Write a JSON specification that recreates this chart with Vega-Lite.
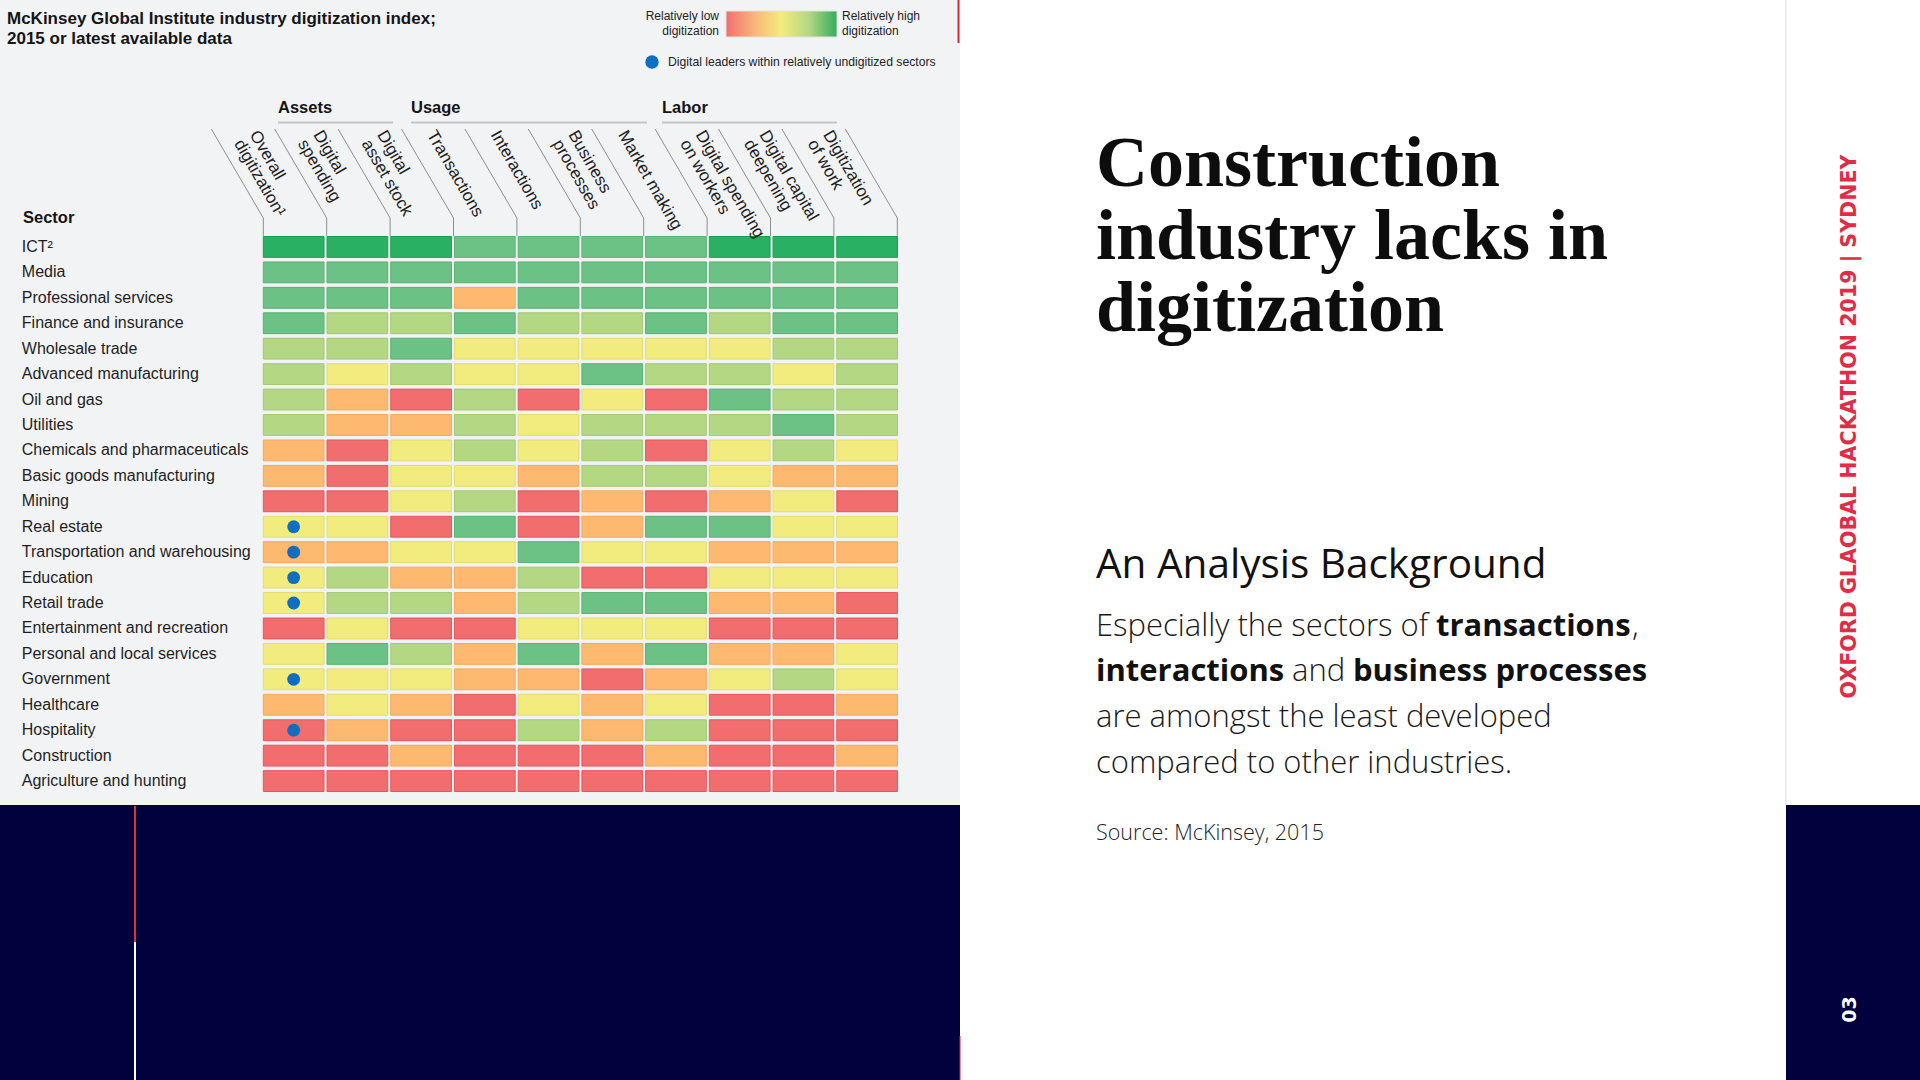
{
  "$schema": "https://vega.github.io/schema/vega-lite/v6.json",
  "width": 1920,
  "height": 1080,
  "autosize": {"type": "fit", "contains": "padding"},
  "padding": 0,
  "background": "#ffffff",
  "config": {"view": {"stroke": null}, "font": "Liberation Sans"},
  "datasets": {
    "cells": [
      {"sector":"ICT²","metric":"Overall digitization","level":6},{"sector":"ICT²","metric":"Digital spending","level":6},{"sector":"ICT²","metric":"Digital asset stock","level":6},{"sector":"ICT²","metric":"Transactions","level":5},{"sector":"ICT²","metric":"Interactions","level":5},{"sector":"ICT²","metric":"Business processes","level":5},{"sector":"ICT²","metric":"Market making","level":5},{"sector":"ICT²","metric":"Digital spending on workers","level":6},{"sector":"ICT²","metric":"Digital capital deepening","level":6},{"sector":"ICT²","metric":"Digitization of work","level":6},
      {"sector":"Media","metric":"Overall digitization","level":5},{"sector":"Media","metric":"Digital spending","level":5},{"sector":"Media","metric":"Digital asset stock","level":5},{"sector":"Media","metric":"Transactions","level":5},{"sector":"Media","metric":"Interactions","level":5},{"sector":"Media","metric":"Business processes","level":5},{"sector":"Media","metric":"Market making","level":5},{"sector":"Media","metric":"Digital spending on workers","level":5},{"sector":"Media","metric":"Digital capital deepening","level":5},{"sector":"Media","metric":"Digitization of work","level":5},
      {"sector":"Professional services","metric":"Overall digitization","level":5},{"sector":"Professional services","metric":"Digital spending","level":5},{"sector":"Professional services","metric":"Digital asset stock","level":5},{"sector":"Professional services","metric":"Transactions","level":2},{"sector":"Professional services","metric":"Interactions","level":5},{"sector":"Professional services","metric":"Business processes","level":5},{"sector":"Professional services","metric":"Market making","level":5},{"sector":"Professional services","metric":"Digital spending on workers","level":5},{"sector":"Professional services","metric":"Digital capital deepening","level":5},{"sector":"Professional services","metric":"Digitization of work","level":5},
      {"sector":"Finance and insurance","metric":"Overall digitization","level":5},{"sector":"Finance and insurance","metric":"Digital spending","level":4},{"sector":"Finance and insurance","metric":"Digital asset stock","level":4},{"sector":"Finance and insurance","metric":"Transactions","level":5},{"sector":"Finance and insurance","metric":"Interactions","level":4},{"sector":"Finance and insurance","metric":"Business processes","level":4},{"sector":"Finance and insurance","metric":"Market making","level":5},{"sector":"Finance and insurance","metric":"Digital spending on workers","level":4},{"sector":"Finance and insurance","metric":"Digital capital deepening","level":5},{"sector":"Finance and insurance","metric":"Digitization of work","level":5},
      {"sector":"Wholesale trade","metric":"Overall digitization","level":4},{"sector":"Wholesale trade","metric":"Digital spending","level":4},{"sector":"Wholesale trade","metric":"Digital asset stock","level":5},{"sector":"Wholesale trade","metric":"Transactions","level":3},{"sector":"Wholesale trade","metric":"Interactions","level":3},{"sector":"Wholesale trade","metric":"Business processes","level":3},{"sector":"Wholesale trade","metric":"Market making","level":3},{"sector":"Wholesale trade","metric":"Digital spending on workers","level":3},{"sector":"Wholesale trade","metric":"Digital capital deepening","level":4},{"sector":"Wholesale trade","metric":"Digitization of work","level":4},
      {"sector":"Advanced manufacturing","metric":"Overall digitization","level":4},{"sector":"Advanced manufacturing","metric":"Digital spending","level":3},{"sector":"Advanced manufacturing","metric":"Digital asset stock","level":4},{"sector":"Advanced manufacturing","metric":"Transactions","level":3},{"sector":"Advanced manufacturing","metric":"Interactions","level":3},{"sector":"Advanced manufacturing","metric":"Business processes","level":5},{"sector":"Advanced manufacturing","metric":"Market making","level":4},{"sector":"Advanced manufacturing","metric":"Digital spending on workers","level":4},{"sector":"Advanced manufacturing","metric":"Digital capital deepening","level":3},{"sector":"Advanced manufacturing","metric":"Digitization of work","level":4},
      {"sector":"Oil and gas","metric":"Overall digitization","level":4},{"sector":"Oil and gas","metric":"Digital spending","level":2},{"sector":"Oil and gas","metric":"Digital asset stock","level":1},{"sector":"Oil and gas","metric":"Transactions","level":4},{"sector":"Oil and gas","metric":"Interactions","level":1},{"sector":"Oil and gas","metric":"Business processes","level":3},{"sector":"Oil and gas","metric":"Market making","level":1},{"sector":"Oil and gas","metric":"Digital spending on workers","level":5},{"sector":"Oil and gas","metric":"Digital capital deepening","level":4},{"sector":"Oil and gas","metric":"Digitization of work","level":4},
      {"sector":"Utilities","metric":"Overall digitization","level":4},{"sector":"Utilities","metric":"Digital spending","level":2},{"sector":"Utilities","metric":"Digital asset stock","level":2},{"sector":"Utilities","metric":"Transactions","level":4},{"sector":"Utilities","metric":"Interactions","level":3},{"sector":"Utilities","metric":"Business processes","level":4},{"sector":"Utilities","metric":"Market making","level":4},{"sector":"Utilities","metric":"Digital spending on workers","level":4},{"sector":"Utilities","metric":"Digital capital deepening","level":5},{"sector":"Utilities","metric":"Digitization of work","level":4},
      {"sector":"Chemicals and pharmaceuticals","metric":"Overall digitization","level":2},{"sector":"Chemicals and pharmaceuticals","metric":"Digital spending","level":1},{"sector":"Chemicals and pharmaceuticals","metric":"Digital asset stock","level":3},{"sector":"Chemicals and pharmaceuticals","metric":"Transactions","level":4},{"sector":"Chemicals and pharmaceuticals","metric":"Interactions","level":3},{"sector":"Chemicals and pharmaceuticals","metric":"Business processes","level":4},{"sector":"Chemicals and pharmaceuticals","metric":"Market making","level":1},{"sector":"Chemicals and pharmaceuticals","metric":"Digital spending on workers","level":3},{"sector":"Chemicals and pharmaceuticals","metric":"Digital capital deepening","level":4},{"sector":"Chemicals and pharmaceuticals","metric":"Digitization of work","level":3},
      {"sector":"Basic goods manufacturing","metric":"Overall digitization","level":2},{"sector":"Basic goods manufacturing","metric":"Digital spending","level":1},{"sector":"Basic goods manufacturing","metric":"Digital asset stock","level":3},{"sector":"Basic goods manufacturing","metric":"Transactions","level":3},{"sector":"Basic goods manufacturing","metric":"Interactions","level":2},{"sector":"Basic goods manufacturing","metric":"Business processes","level":4},{"sector":"Basic goods manufacturing","metric":"Market making","level":4},{"sector":"Basic goods manufacturing","metric":"Digital spending on workers","level":3},{"sector":"Basic goods manufacturing","metric":"Digital capital deepening","level":2},{"sector":"Basic goods manufacturing","metric":"Digitization of work","level":2},
      {"sector":"Mining","metric":"Overall digitization","level":1},{"sector":"Mining","metric":"Digital spending","level":1},{"sector":"Mining","metric":"Digital asset stock","level":3},{"sector":"Mining","metric":"Transactions","level":4},{"sector":"Mining","metric":"Interactions","level":1},{"sector":"Mining","metric":"Business processes","level":2},{"sector":"Mining","metric":"Market making","level":1},{"sector":"Mining","metric":"Digital spending on workers","level":2},{"sector":"Mining","metric":"Digital capital deepening","level":3},{"sector":"Mining","metric":"Digitization of work","level":1},
      {"sector":"Real estate","metric":"Overall digitization","level":3},{"sector":"Real estate","metric":"Digital spending","level":3},{"sector":"Real estate","metric":"Digital asset stock","level":1},{"sector":"Real estate","metric":"Transactions","level":5},{"sector":"Real estate","metric":"Interactions","level":1},{"sector":"Real estate","metric":"Business processes","level":2},{"sector":"Real estate","metric":"Market making","level":5},{"sector":"Real estate","metric":"Digital spending on workers","level":5},{"sector":"Real estate","metric":"Digital capital deepening","level":3},{"sector":"Real estate","metric":"Digitization of work","level":3},
      {"sector":"Transportation and warehousing","metric":"Overall digitization","level":2},{"sector":"Transportation and warehousing","metric":"Digital spending","level":2},{"sector":"Transportation and warehousing","metric":"Digital asset stock","level":3},{"sector":"Transportation and warehousing","metric":"Transactions","level":3},{"sector":"Transportation and warehousing","metric":"Interactions","level":5},{"sector":"Transportation and warehousing","metric":"Business processes","level":3},{"sector":"Transportation and warehousing","metric":"Market making","level":3},{"sector":"Transportation and warehousing","metric":"Digital spending on workers","level":2},{"sector":"Transportation and warehousing","metric":"Digital capital deepening","level":2},{"sector":"Transportation and warehousing","metric":"Digitization of work","level":2},
      {"sector":"Education","metric":"Overall digitization","level":3},{"sector":"Education","metric":"Digital spending","level":4},{"sector":"Education","metric":"Digital asset stock","level":2},{"sector":"Education","metric":"Transactions","level":2},{"sector":"Education","metric":"Interactions","level":4},{"sector":"Education","metric":"Business processes","level":1},{"sector":"Education","metric":"Market making","level":1},{"sector":"Education","metric":"Digital spending on workers","level":3},{"sector":"Education","metric":"Digital capital deepening","level":3},{"sector":"Education","metric":"Digitization of work","level":3},
      {"sector":"Retail trade","metric":"Overall digitization","level":3},{"sector":"Retail trade","metric":"Digital spending","level":4},{"sector":"Retail trade","metric":"Digital asset stock","level":4},{"sector":"Retail trade","metric":"Transactions","level":2},{"sector":"Retail trade","metric":"Interactions","level":4},{"sector":"Retail trade","metric":"Business processes","level":5},{"sector":"Retail trade","metric":"Market making","level":5},{"sector":"Retail trade","metric":"Digital spending on workers","level":2},{"sector":"Retail trade","metric":"Digital capital deepening","level":2},{"sector":"Retail trade","metric":"Digitization of work","level":1},
      {"sector":"Entertainment and recreation","metric":"Overall digitization","level":1},{"sector":"Entertainment and recreation","metric":"Digital spending","level":3},{"sector":"Entertainment and recreation","metric":"Digital asset stock","level":1},{"sector":"Entertainment and recreation","metric":"Transactions","level":1},{"sector":"Entertainment and recreation","metric":"Interactions","level":3},{"sector":"Entertainment and recreation","metric":"Business processes","level":3},{"sector":"Entertainment and recreation","metric":"Market making","level":3},{"sector":"Entertainment and recreation","metric":"Digital spending on workers","level":1},{"sector":"Entertainment and recreation","metric":"Digital capital deepening","level":1},{"sector":"Entertainment and recreation","metric":"Digitization of work","level":1},
      {"sector":"Personal and local services","metric":"Overall digitization","level":3},{"sector":"Personal and local services","metric":"Digital spending","level":5},{"sector":"Personal and local services","metric":"Digital asset stock","level":4},{"sector":"Personal and local services","metric":"Transactions","level":2},{"sector":"Personal and local services","metric":"Interactions","level":5},{"sector":"Personal and local services","metric":"Business processes","level":2},{"sector":"Personal and local services","metric":"Market making","level":5},{"sector":"Personal and local services","metric":"Digital spending on workers","level":2},{"sector":"Personal and local services","metric":"Digital capital deepening","level":2},{"sector":"Personal and local services","metric":"Digitization of work","level":3},
      {"sector":"Government","metric":"Overall digitization","level":3},{"sector":"Government","metric":"Digital spending","level":3},{"sector":"Government","metric":"Digital asset stock","level":3},{"sector":"Government","metric":"Transactions","level":2},{"sector":"Government","metric":"Interactions","level":2},{"sector":"Government","metric":"Business processes","level":1},{"sector":"Government","metric":"Market making","level":2},{"sector":"Government","metric":"Digital spending on workers","level":3},{"sector":"Government","metric":"Digital capital deepening","level":4},{"sector":"Government","metric":"Digitization of work","level":3},
      {"sector":"Healthcare","metric":"Overall digitization","level":2},{"sector":"Healthcare","metric":"Digital spending","level":3},{"sector":"Healthcare","metric":"Digital asset stock","level":2},{"sector":"Healthcare","metric":"Transactions","level":1},{"sector":"Healthcare","metric":"Interactions","level":3},{"sector":"Healthcare","metric":"Business processes","level":2},{"sector":"Healthcare","metric":"Market making","level":3},{"sector":"Healthcare","metric":"Digital spending on workers","level":1},{"sector":"Healthcare","metric":"Digital capital deepening","level":1},{"sector":"Healthcare","metric":"Digitization of work","level":2},
      {"sector":"Hospitality","metric":"Overall digitization","level":1},{"sector":"Hospitality","metric":"Digital spending","level":2},{"sector":"Hospitality","metric":"Digital asset stock","level":1},{"sector":"Hospitality","metric":"Transactions","level":1},{"sector":"Hospitality","metric":"Interactions","level":4},{"sector":"Hospitality","metric":"Business processes","level":2},{"sector":"Hospitality","metric":"Market making","level":4},{"sector":"Hospitality","metric":"Digital spending on workers","level":1},{"sector":"Hospitality","metric":"Digital capital deepening","level":1},{"sector":"Hospitality","metric":"Digitization of work","level":1},
      {"sector":"Construction","metric":"Overall digitization","level":1},{"sector":"Construction","metric":"Digital spending","level":1},{"sector":"Construction","metric":"Digital asset stock","level":2},{"sector":"Construction","metric":"Transactions","level":1},{"sector":"Construction","metric":"Interactions","level":1},{"sector":"Construction","metric":"Business processes","level":1},{"sector":"Construction","metric":"Market making","level":2},{"sector":"Construction","metric":"Digital spending on workers","level":1},{"sector":"Construction","metric":"Digital capital deepening","level":1},{"sector":"Construction","metric":"Digitization of work","level":2},
      {"sector":"Agriculture and hunting","metric":"Overall digitization","level":1},{"sector":"Agriculture and hunting","metric":"Digital spending","level":1},{"sector":"Agriculture and hunting","metric":"Digital asset stock","level":1},{"sector":"Agriculture and hunting","metric":"Transactions","level":1},{"sector":"Agriculture and hunting","metric":"Interactions","level":1},{"sector":"Agriculture and hunting","metric":"Business processes","level":1},{"sector":"Agriculture and hunting","metric":"Market making","level":1},{"sector":"Agriculture and hunting","metric":"Digital spending on workers","level":1},{"sector":"Agriculture and hunting","metric":"Digital capital deepening","level":1},{"sector":"Agriculture and hunting","metric":"Digitization of work","level":1}
    ],
    "leaders": [
      {"sector":"Real estate","metric":"Overall digitization"},
      {"sector":"Transportation and warehousing","metric":"Overall digitization"},
      {"sector":"Education","metric":"Overall digitization"},
      {"sector":"Retail trade","metric":"Overall digitization"},
      {"sector":"Government","metric":"Overall digitization"},
      {"sector":"Hospitality","metric":"Overall digitization"}
    ],
    "edges": [{"edge":0},{"edge":1},{"edge":2},{"edge":3},{"edge":4},{"edge":5},{"edge":6},{"edge":7},{"edge":8},{"edge":9},{"edge":10}]
  },
  "layer": [
    {"data": {"values": [{}]}, "mark": {"type": "rect", "x": 0, "x2": 960, "y": 0, "y2": 805, "color": "#f2f3f5"}, "encoding": {}},
    {"data": {"values": [{}]}, "mark": {"type": "rect", "x": 0, "x2": 960, "y": 805, "y2": 1080, "color": "#01013e"}, "encoding": {}},
    {"data": {"values": [{}]}, "mark": {"type": "rect", "x": 1786, "x2": 1920, "y": 805, "y2": 1080, "color": "#01013e"}, "encoding": {}},
    {"data": {"values": [{}]}, "mark": {"type": "rect", "x": 1785, "x2": 1786.5, "y": 0, "y2": 805, "color": "#eaeaea"}, "encoding": {}},
    {"data": {"values": [{}]}, "mark": {"type": "rect", "x": 134, "x2": 136, "y": 806, "y2": 942, "color": "#e0303f"}, "encoding": {}},
    {"data": {"values": [{}]}, "mark": {"type": "rect", "x": 134, "x2": 136, "y": 942, "y2": 1080, "color": "#ffffff"}, "encoding": {}},
    {"data": {"values": [{}]}, "mark": {"type": "rect", "x": 957.5, "x2": 959.5, "y": 0, "y2": 43, "color": "#d9283c"}, "encoding": {}},
    {"data": {"values": [{}]}, "mark": {"type": "rect", "x": 959.5, "x2": 960.5, "y": 1036, "y2": 1080, "color": "#d9283c"}, "encoding": {}},
    {
      "data": {"name": "cells"},
      "layer": [
        {
          "mark": {"type": "rect", "strokeWidth": 1},
          "encoding": {
            "x": {
              "field": "metric", "type": "nominal",
              "scale": {"domain": ["Overall digitization","Digital spending","Digital asset stock","Transactions","Interactions","Business processes","Market making","Digital spending on workers","Digital capital deepening","Digitization of work"], "range": [263.3, 897.5], "paddingInner": 0.047, "paddingOuter": 0},
              "axis": {
                "orient": "top", "offset": -236.5, "domain": false, "ticks": false, "tickSize": 0, "grid": false, "title": null,
                "labelAngle": 60, "labelAlign": "left", "labelBaseline": "middle", "labelPadding": 105,
                "labelOffset": {"condition": {"test": "datum.value == 'Transactions' || datum.value == 'Interactions' || datum.value == 'Market making'", "value": -54}, "value": -40},
                "labelFont": "Liberation Sans", "labelFontSize": 17, "labelColor": "#1e1e1e", "labelLineHeight": 18,
                "labelLimit": 400, "labelOverlap": false, "labelBound": false, "labelFlush": false,
                "labelExpr": "datum.label == 'Overall digitization' ? ['Overall', 'digitization¹'] : datum.label == 'Digital spending' ? ['Digital', 'spending'] : datum.label == 'Digital asset stock' ? ['Digital', 'asset stock'] : datum.label == 'Business processes' ? ['Business', 'processes'] : datum.label == 'Digital spending on workers' ? ['Digital spending', 'on workers'] : datum.label == 'Digital capital deepening' ? ['Digital capital', 'deepening'] : datum.label == 'Digitization of work' ? ['Digitization', 'of work'] : datum.label"
              }
            },
            "y": {
              "field": "sector", "type": "nominal",
              "scale": {"domain": ["ICT²","Media","Professional services","Finance and insurance","Wholesale trade","Advanced manufacturing","Oil and gas","Utilities","Chemicals and pharmaceuticals","Basic goods manufacturing","Mining","Real estate","Transportation and warehousing","Education","Retail trade","Entertainment and recreation","Personal and local services","Government","Healthcare","Hospitality","Construction","Agriculture and hunting"], "range": [236.5, 791.5], "paddingInner": 0.18, "paddingOuter": 0},
              "axis": {
                "orient": "left", "offset": -263.3, "domain": false, "ticks": false, "tickSize": 0, "grid": false, "title": null,
                "labelAlign": "left", "labelBaseline": "middle", "labelPadding": 242,
                "labelFont": "Liberation Sans", "labelFontSize": 16, "labelColor": "#1e1e1e",
                "labelLimit": 400, "labelOverlap": false, "labelFlush": false
              }
            },
            "fill": {"field": "level", "type": "ordinal", "scale": {"domain": [1,2,3,4,5,6], "range": ["#f26d6e","#fdb96f","#f2ec7e","#b4d783","#6cc185","#2ab063"]}, "legend": null},
            "stroke": {"field": "level", "type": "ordinal", "scale": {"domain": [1,2,3,4,5,6], "range": ["#e8565c","#f7a85a","#e3dd6c","#a3ca70","#57b373","#17a052"]}, "legend": null}
          }
        },
        {
          "data": {"name": "leaders"},
          "mark": {"type": "circle", "size": 165, "opacity": 1, "color": "#0e6fc1"},
          "encoding": {
            "x": {"field": "metric", "type": "nominal"},
            "y": {"field": "sector", "type": "nominal"}
          }
        }
      ]
    },
    {
      "data": {"name": "edges"},
      "mark": {"type": "rule", "color": "#8e8e8e", "strokeWidth": 1, "xOffset": -52},
      "encoding": {
        "x": {"field": "edge", "type": "quantitative", "scale": {"domain": [0, 10], "range": [263.3, 897.3]}, "axis": null},
        "x2": {"field": "edge"},
        "y": {"value": 129},
        "y2": {"value": 218}
      }
    },
    {
      "data": {"name": "edges"},
      "mark": {"type": "rule", "color": "#8e8e8e", "strokeWidth": 1},
      "encoding": {
        "x": {"field": "edge", "type": "quantitative", "scale": {"domain": [0, 10], "range": [263.3, 897.3]}, "axis": null},
        "y": {"value": 218},
        "y2": {"value": 236}
      }
    },
    {"data": {"values": [{}]}, "mark": {"type": "rect", "x": 278, "x2": 393, "y": 121.5, "y2": 123.5, "color": "#c6c6c6"}, "encoding": {}},
    {"data": {"values": [{}]}, "mark": {"type": "rect", "x": 411, "x2": 647, "y": 121.5, "y2": 123.5, "color": "#c6c6c6"}, "encoding": {}},
    {"data": {"values": [{}]}, "mark": {"type": "rect", "x": 662, "x2": 837, "y": 121.5, "y2": 123.5, "color": "#c6c6c6"}, "encoding": {}},
    {"data": {"values": [{"label": "Assets"}]}, "mark": {"type": "text", "x": 278, "y": 113, "align": "left", "baseline": "alphabetic", "font": "Liberation Sans", "fontSize": 16.5, "fontWeight": "bold", "color": "#151515"}, "encoding": {"text": {"field": "label"}}},
    {"data": {"values": [{"label": "Usage"}]}, "mark": {"type": "text", "x": 411, "y": 113, "align": "left", "baseline": "alphabetic", "font": "Liberation Sans", "fontSize": 16.5, "fontWeight": "bold", "color": "#151515"}, "encoding": {"text": {"field": "label"}}},
    {"data": {"values": [{"label": "Labor"}]}, "mark": {"type": "text", "x": 662, "y": 113, "align": "left", "baseline": "alphabetic", "font": "Liberation Sans", "fontSize": 16.5, "fontWeight": "bold", "color": "#151515"}, "encoding": {"text": {"field": "label"}}},
    {"data": {"values": [{"label": "Sector"}]}, "mark": {"type": "text", "x": 23, "y": 223, "align": "left", "baseline": "alphabetic", "font": "Liberation Sans", "fontSize": 16.5, "fontWeight": "bold", "color": "#151515"}, "encoding": {"text": {"field": "label"}}},
    {"data": {"values": [{"label": "McKinsey Global Institute industry digitization index;\n2015 or latest available data"}]}, "mark": {"type": "text", "x": 7, "y": 24, "align": "left", "baseline": "alphabetic", "lineBreak": "\n", "lineHeight": 20, "font": "Liberation Sans", "fontSize": 17, "fontWeight": "bold", "color": "#151515"}, "encoding": {"text": {"field": "label"}}},
    {"data": {"values": [{}]}, "mark": {"type": "rect", "x": 726, "x2": 837, "y": 11, "y2": 37, "stroke": "#e2e2e2", "strokeWidth": 1, "color": {"gradient": "linear", "x1": 0, "y1": 0, "x2": 1, "y2": 0, "stops": [{"offset": 0, "color": "#f26d6e"}, {"offset": 0.25, "color": "#f8b57a"}, {"offset": 0.5, "color": "#f2ec7e"}, {"offset": 0.75, "color": "#b4d783"}, {"offset": 1, "color": "#34ad5c"}]}}, "encoding": {}},
    {"data": {"values": [{"label": "Relatively low\ndigitization"}]}, "mark": {"type": "text", "x": 719, "y": 20, "align": "right", "baseline": "alphabetic", "lineBreak": "\n", "lineHeight": 15, "font": "Liberation Sans", "fontSize": 12, "color": "#222222"}, "encoding": {"text": {"field": "label"}}},
    {"data": {"values": [{"label": "Relatively high\ndigitization"}]}, "mark": {"type": "text", "x": 842, "y": 20, "align": "left", "baseline": "alphabetic", "lineBreak": "\n", "lineHeight": 15, "font": "Liberation Sans", "fontSize": 12, "color": "#222222"}, "encoding": {"text": {"field": "label"}}},
    {"data": {"values": [{}]}, "mark": {"type": "circle", "x": 652, "y": 62, "size": 180, "opacity": 1, "color": "#0e6fc1"}, "encoding": {}},
    {"data": {"values": [{"label": "Digital leaders within relatively undigitized sectors"}]}, "mark": {"type": "text", "x": 668, "y": 62, "align": "left", "baseline": "middle", "font": "Liberation Sans", "fontSize": 12.2, "color": "#222222"}, "encoding": {"text": {"field": "label"}}},
    {"data": {"values": [{"label": "Construction"}]}, "mark": {"type": "text", "x": 1096, "y": 186, "align": "left", "baseline": "alphabetic", "font": "Liberation Serif", "fontSize": 72, "fontWeight": "bold", "color": "#0d0d0d"}, "encoding": {"text": {"field": "label"}}},
    {"data": {"values": [{"label": "industry lacks in"}]}, "mark": {"type": "text", "x": 1096, "y": 258.5, "align": "left", "baseline": "alphabetic", "font": "Liberation Serif", "fontSize": 72, "fontWeight": "bold", "color": "#0d0d0d"}, "encoding": {"text": {"field": "label"}}},
    {"data": {"values": [{"label": "digitization"}]}, "mark": {"type": "text", "x": 1096, "y": 331, "align": "left", "baseline": "alphabetic", "font": "Liberation Serif", "fontSize": 72, "fontWeight": "bold", "color": "#0d0d0d"}, "encoding": {"text": {"field": "label"}}},
    {"data": {"values": [{"label": "An Analysis Background"}]}, "mark": {"type": "text", "x": 1096, "y": 578, "align": "left", "baseline": "alphabetic", "font": "Open Sans", "fontSize": 40.5, "fontWeight": 400, "color": "#111111"}, "encoding": {"text": {"field": "label"}}},
    {"data": {"values": [{"label": "Especially the sectors of"}]}, "mark": {"type": "text", "x": 1096, "y": 636, "align": "left", "baseline": "alphabetic", "font": "Open Sans", "fontSize": 31, "fontWeight": 300, "color": "#1a1a1a"}, "encoding": {"text": {"field": "label"}}},
    {"data": {"values": [{"label": "transactions"}]}, "mark": {"type": "text", "x": 1436, "y": 636, "align": "left", "baseline": "alphabetic", "font": "Open Sans", "fontSize": 31, "fontWeight": 700, "color": "#111111"}, "encoding": {"text": {"field": "label"}}},
    {"data": {"values": [{"label": ","}]}, "mark": {"type": "text", "x": 1632, "y": 636, "align": "left", "baseline": "alphabetic", "font": "Open Sans", "fontSize": 31, "fontWeight": 300, "color": "#1a1a1a"}, "encoding": {"text": {"field": "label"}}},
    {"data": {"values": [{"label": "interactions"}]}, "mark": {"type": "text", "x": 1096, "y": 681, "align": "left", "baseline": "alphabetic", "font": "Open Sans", "fontSize": 31, "fontWeight": 700, "color": "#111111"}, "encoding": {"text": {"field": "label"}}},
    {"data": {"values": [{"label": "and"}]}, "mark": {"type": "text", "x": 1292, "y": 681, "align": "left", "baseline": "alphabetic", "font": "Open Sans", "fontSize": 31, "fontWeight": 300, "color": "#1a1a1a"}, "encoding": {"text": {"field": "label"}}},
    {"data": {"values": [{"label": "business processes"}]}, "mark": {"type": "text", "x": 1353, "y": 681, "align": "left", "baseline": "alphabetic", "font": "Open Sans", "fontSize": 31, "fontWeight": 700, "color": "#111111"}, "encoding": {"text": {"field": "label"}}},
    {"data": {"values": [{"label": "are amongst the least developed\ncompared to other industries."}]}, "mark": {"type": "text", "x": 1096, "y": 727, "align": "left", "baseline": "alphabetic", "lineBreak": "\n", "lineHeight": 45.5, "font": "Open Sans", "fontSize": 31, "fontWeight": 300, "color": "#1a1a1a"}, "encoding": {"text": {"field": "label"}}},
    {"data": {"values": [{"label": "Source: McKinsey, 2015"}]}, "mark": {"type": "text", "x": 1096, "y": 840, "align": "left", "baseline": "alphabetic", "font": "Open Sans", "fontSize": 21.5, "fontWeight": 300, "color": "#222222"}, "encoding": {"text": {"field": "label"}}},
    {"data": {"values": [{"label": "OXFORD GLAOBAL HACKATHON 2019 | SYDNEY"}]}, "mark": {"type": "text", "x": 1849.5, "y": 426.5, "angle": 270, "align": "center", "baseline": "middle", "font": "DejaVu Sans", "fontSize": 20.6, "fontWeight": "bold", "color": "#e22b45"}, "encoding": {"text": {"field": "label"}}},
    {"data": {"values": [{"label": "03"}]}, "mark": {"type": "text", "x": 1849.5, "y": 1009.5, "angle": 270, "align": "center", "baseline": "middle", "font": "DejaVu Sans", "fontSize": 19, "fontWeight": "bold", "color": "#ffffff"}, "encoding": {"text": {"field": "label"}}}
  ],
  "resolve": {"scale": {"x": "independent", "y": "independent", "fill": "independent", "stroke": "independent"}}
}
